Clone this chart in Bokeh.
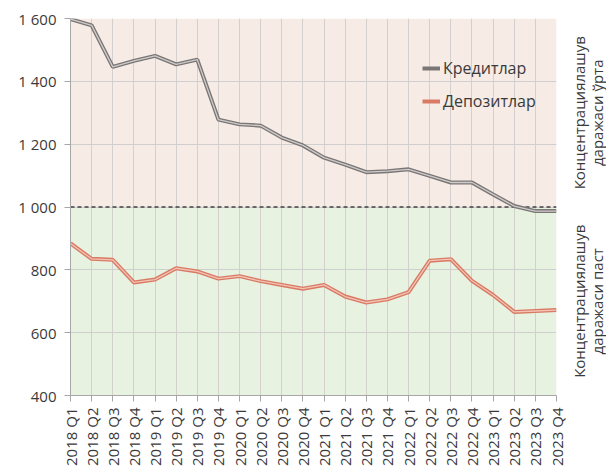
from math import pi
from bokeh.plotting import figure
from bokeh.layouts import row
from bokeh.models import (Range1d, FixedTicker, BoxAnnotation, Span,
                          Legend, LegendItem)
from bokeh.core.properties import value
from bokeh.embed import file_html
from bokeh.resources import INLINE

quarters = ["2018 Q1", "2018 Q2", "2018 Q3", "2018 Q4",
            "2019 Q1", "2019 Q2", "2019 Q3", "2019 Q4",
            "2020 Q1", "2020 Q2", "2020 Q3", "2020 Q4",
            "2021 Q1", "2021 Q2", "2021 Q3", "2021 Q4",
            "2022 Q1", "2022 Q2", "2022 Q3", "2022 Q4",
            "2023 Q1", "2023 Q2", "2023 Q3", "2023 Q4"]
credits = [1598, 1578, 1446, 1465, 1481, 1454, 1469, 1278,
           1263, 1259, 1221, 1196, 1157, 1135, 1111, 1114,
           1120, 1099, 1078, 1078, 1040, 1003, 987, 987]
deposits = [884, 835, 832, 760, 769, 805, 795, 772,
            780, 764, 752, 740, 752, 715, 696, 706,
            729, 829, 834, 765, 720, 666, 669, 672]
y_ticks = [400, 600, 800, 1000, 1200, 1400, 1600]
y_tick_labels = ["400", "600", "800", "1 000", "1 200", "1 400", "1 600"]
threshold = 1000
series_names = ["Кредитлар", "Депозитлар"]
band_label_pos = [1300, 700]
band_label_line1 = ["Концентрациялашув", "Концентрациялашув"]
band_label_line2 = ["даражаси ўрта", "даражаси паст"]

FONT = "Open Sans"
TXT = "#3a3a3a"

xs = list(range(len(quarters)))

p = figure(width=566, height=470, output_backend="svg", toolbar_location=None,
           x_range=Range1d(0, len(quarters) - 1), y_range=Range1d(400, 1600),
           min_border_left=70, min_border_right=10, min_border_top=18,
           min_border_bottom=75)
p.outline_line_color = None
p.background_fill_color = "white"
p.border_fill_color = "white"

# background bands
p.add_layout(BoxAnnotation(bottom=threshold, top=1600, fill_color="#f7ebe6",
                           fill_alpha=1, line_color=None, level="image"))
p.add_layout(BoxAnnotation(bottom=400, top=threshold, fill_color="#e8f2e0",
                           fill_alpha=1, line_color=None, level="image"))

# axes
p.xaxis.ticker = FixedTicker(ticks=xs)
p.xaxis.major_label_overrides = {i: q for i, q in enumerate(quarters)}
p.xaxis.major_label_orientation = pi / 2
p.yaxis.ticker = FixedTicker(ticks=y_ticks)
p.yaxis.major_label_overrides = {v: l for v, l in zip(y_ticks, y_tick_labels)}
for ax in (p.xaxis, p.yaxis):
    ax.major_label_text_font = FONT
    ax.major_label_text_font_size = "15px"
    ax.major_label_text_color = TXT
    ax.axis_line_color = "#a6a6a6"
    ax.major_tick_line_color = "#a6a6a6"
    ax.minor_tick_line_color = None
    ax.major_tick_in = 0
    ax.major_tick_out = 6
p.xaxis.major_label_standoff = 6
p.yaxis.major_label_standoff = 8

p.xgrid.ticker = FixedTicker(ticks=xs)
p.ygrid.ticker = FixedTicker(ticks=y_ticks)
p.xgrid.grid_line_color = "#d4d0ce"
p.ygrid.grid_line_color = "#cfcfcf"

p.add_layout(Span(location=threshold, dimension="width", line_color="#404040",
                  line_width=1.5, line_dash="4 3", level="underlay"))

# lines (double stroke)
c_outer = p.line(xs, credits, line_color="#7a7676", line_width=4)
p.line(xs, credits, line_color="#cfcbcb", line_width=1.3)
d_outer = p.line(xs, deposits, line_color="#d97a64", line_width=4)
p.line(xs, deposits, line_color="#f3c4b6", line_width=1.3)

legend = Legend(items=[LegendItem(label=series_names[0], renderers=[c_outer]),
                       LegendItem(label=series_names[1], renderers=[d_outer])],
                location=(352, 283), background_fill_alpha=0,
                border_line_color=None, padding=0, margin=0, spacing=11,
                label_text_font=FONT, label_text_font_size="16px",
                label_text_color=TXT, glyph_width=18, glyph_height=20,
                label_height=20, label_standoff=3)
p.add_layout(legend)

# side panel with band labels
side = figure(width=40, height=470, output_backend="svg", toolbar_location=None,
              x_range=Range1d(0, 40), y_range=Range1d(400, 1600),
              x_axis_location=None, y_axis_location=None,
              min_border_left=0, min_border_right=0, min_border_top=18,
              min_border_bottom=75)
side.outline_line_color = None
side.xgrid.visible = False
side.ygrid.visible = False
side.text(x=[12, 12], y=band_label_pos, text=band_label_line1, angle=pi / 2,
          text_align="center", text_baseline="middle",
          text_font=value(FONT), text_font_size="15px", text_color=TXT)
side.text(x=[30, 30], y=band_label_pos, text=band_label_line2, angle=pi / 2,
          text_align="center", text_baseline="middle",
          text_font=value(FONT), text_font_size="15px", text_color=TXT)

layout = row(p, side)
open("out.html", "w").write(file_html(layout, INLINE))
